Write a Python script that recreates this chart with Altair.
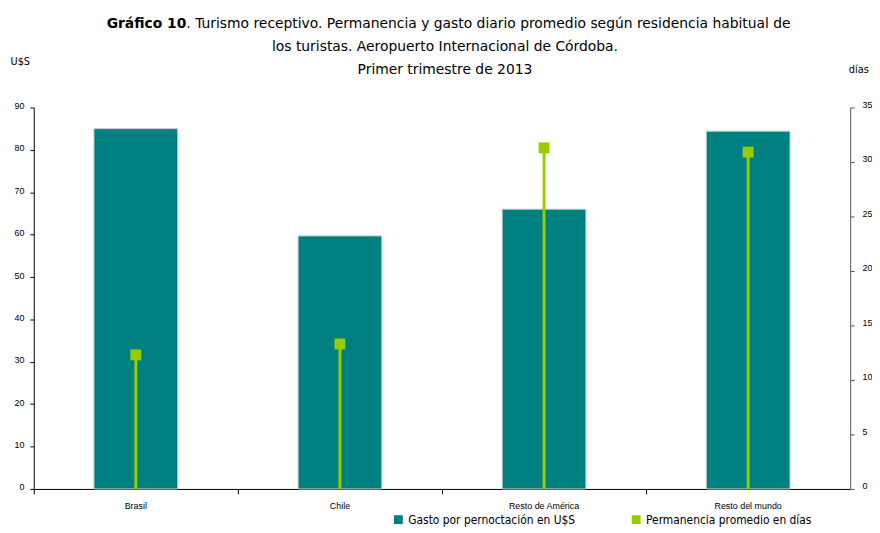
import altair as alt
import pandas as pd

categories = ["Brasil", "Chile", "Resto de América", "Resto del mundo"]
gasto = [85.0, 59.7, 66.0, 84.4]
dias = [12.3, 13.3, 31.3, 30.9]
serie_gasto = "Gasto por pernoctación en U$S"
serie_dias = "Permanencia promedio en días"

df = pd.DataFrame({"cat": categories, "gasto": gasto, "dias": dias,
                   "s_gasto": serie_gasto, "s_dias": serie_dias})

W, H = 824, 385
FONT = "Liberation Sans"
TFONT = "DejaVu Sans"
LFONT = "DejaVu Sans Condensed"

xenc = alt.X("cat:N", sort=categories,
             scale=alt.Scale(paddingInner=0, paddingOuter=0),
             axis=alt.Axis(title=None, bandPosition=0,
                           labelAngle=0, labelFont=FONT, labelFontSize=9,
                           labelColor="#000", labelPadding=8, tickSize=5,
                           tickColor="#000", domainColor="#000", grid=False))

color = alt.Color("serie:N",
                  scale=alt.Scale(domain=[serie_gasto, serie_dias],
                                  range=["#008080", "#99CC00"]),
                  legend=alt.Legend(title=None, orient="none", legendX=362, legendY=410,
                                    direction="horizontal", columns=2, columnPadding=55,
                                    symbolType="square", symbolSize=80,
                                    symbolStrokeWidth=0, labelFont=LFONT,
                                    labelFontSize=12, labelColor="#000",
                                    labelLimit=300))

bars = alt.Chart(df).transform_calculate(serie="datum.s_gasto").mark_bar(
    width=alt.RelativeBandSize(0.41), stroke="#c8c8c8", strokeWidth=1
).encode(
    x=xenc,
    y=alt.Y("gasto:Q", scale=alt.Scale(domain=[0, 90]),
            axis=alt.Axis(title="U$S", titleAngle=0, titleAlign="left",
                          titleBaseline="middle", titleX=-24, titleY=-46,
                          titleFont=LFONT, titleFontSize=11, titleFontWeight="normal",
                          values=list(range(0, 91, 10)), labelFont=FONT,
                          labelFontSize=9, labelColor="#000", tickColor="#000",
                          domainColor="#000", tickSize=4, grid=False,
                          labelPadding=6, labelOffset=-2)),
    color=color,
)

yr = alt.Y("dias:Q", scale=alt.Scale(domain=[0, 35]),
           axis=alt.Axis(title="días", orient="right", titleAngle=0, titleAlign="left",
                         titleBaseline="middle", titleX=-2, titleY=-38,
                         titleFont=LFONT, titleFontSize=11, titleFontWeight="normal",
                         values=list(range(0, 36, 5)), labelFont=FONT,
                         labelFontSize=9, labelColor="#000", tickColor="#555",
                         domainColor="#555", tickSize=4, grid=False,
                         labelPadding=8, labelOffset=-3))

rules = alt.Chart(df).transform_calculate(serie="datum.s_dias").mark_rule(
    strokeWidth=3).encode(x=alt.X("cat:N", sort=categories), y=yr,
                          y2=alt.datum(0), color=color)
points = alt.Chart(df).transform_calculate(serie="datum.s_dias").mark_point(
    shape="square", filled=True, size=121, opacity=1).encode(
    x=alt.X("cat:N", sort=categories), y=yr, color=color)

SPLIT = 154
t1 = alt.Chart(pd.DataFrame({"t": ["Gráfico 10"]})).mark_text(
    align="right", baseline="middle", font=TFONT, fontSize=14, fontWeight="bold",
    color="#000").encode(x=alt.value(SPLIT), y=alt.value(-84), text="t:N")
t2 = alt.Chart(pd.DataFrame({"t": [". Turismo receptivo. Permanencia y gasto diario promedio según residencia habitual de"]})).mark_text(
    align="left", baseline="middle", font=TFONT, fontSize=14,
    color="#000").encode(x=alt.value(SPLIT), y=alt.value(-84), text="t:N")
t3 = alt.Chart(pd.DataFrame({"t": ["los turistas. Aeropuerto Internacional de Córdoba."]})).mark_text(
    align="center", baseline="middle", font=TFONT, fontSize=14,
    color="#000").encode(x=alt.value(415), y=alt.value(-61), text="t:N")
t4 = alt.Chart(pd.DataFrame({"t": ["Primer trimestre de 2013"]})).mark_text(
    align="center", baseline="middle", font=TFONT, fontSize=14,
    color="#000").encode(x=alt.value(415), y=alt.value(-38), text="t:N")

right = alt.layer(rules, points)
chart = alt.layer(bars, right, t1, t2, t3, t4).resolve_scale(y="independent").properties(
    width=W, height=H,
    autosize=alt.AutoSizeParams(type="none"),
    padding={"left": 26, "top": 98, "right": 22, "bottom": 36},
    background="white",
).configure_view(stroke=None)

chart.save("out.html", embed_options={"renderer": "svg", "actions": False})
